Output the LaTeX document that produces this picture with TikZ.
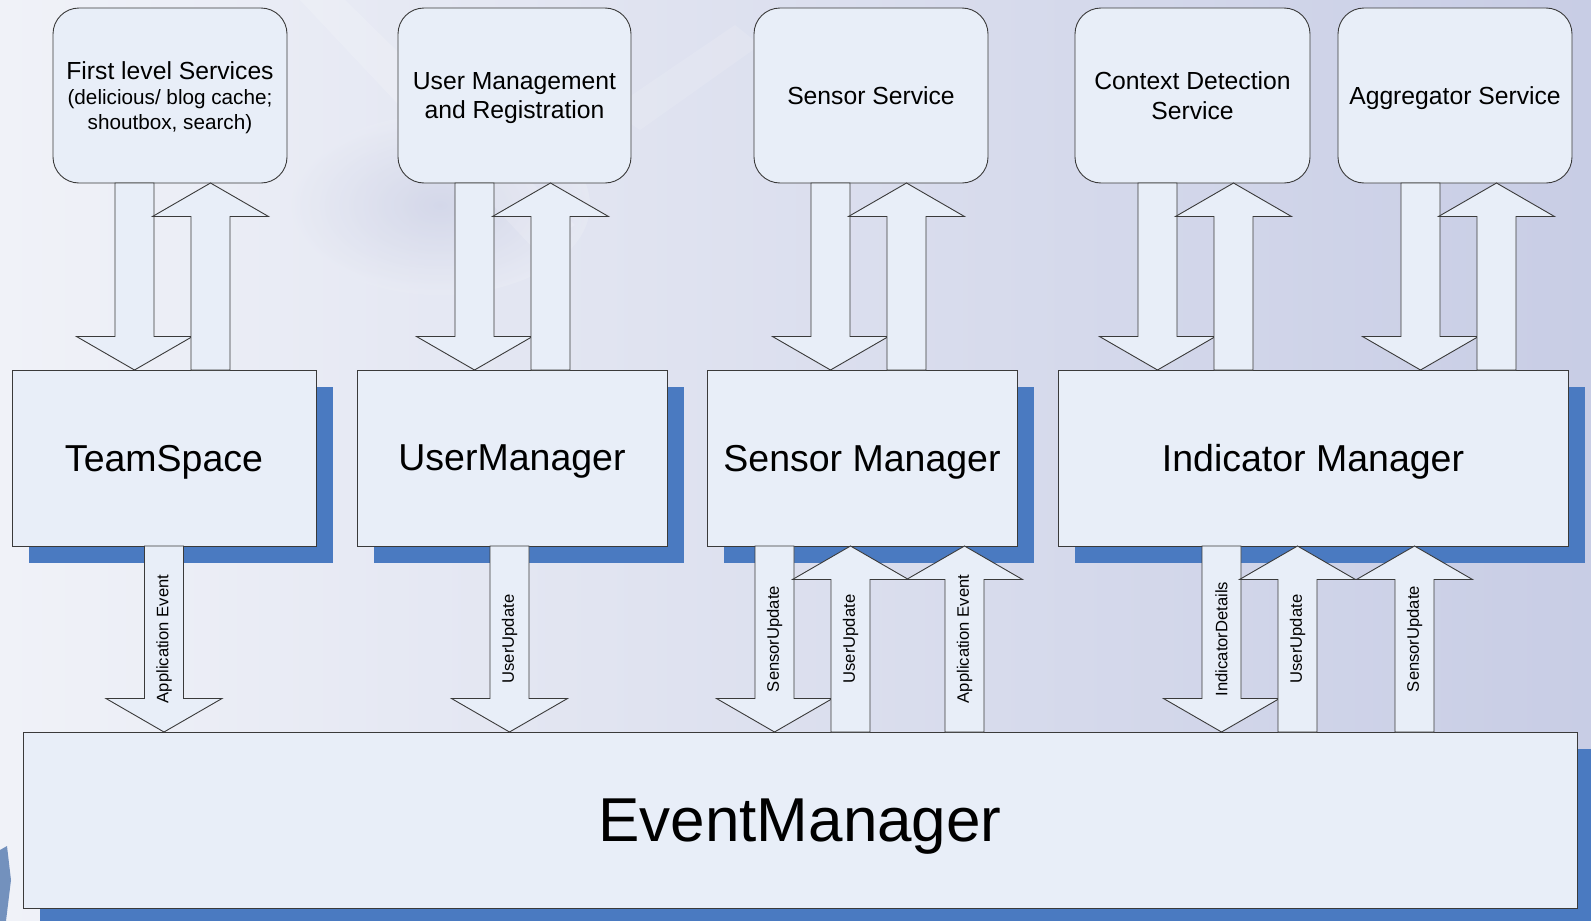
\documentclass[tikz,border=0pt]{standalone}
\usepackage{fontspec}
\setmainfont{Liberation Sans}
\usetikzlibrary{calc,shadows}

\definecolor{bgleft}{HTML}{F0F2F8}
\definecolor{bgright}{HTML}{C8CDE5}
\definecolor{boxfill}{HTML}{E8EEF8}
\definecolor{edge}{HTML}{3A3A3A}
\definecolor{shadowblue}{HTML}{4A7AC1}
\definecolor{ghost}{HTML}{C9CDE3}

\newcommand{\shaftw}{19.5pt}
\newcommand{\headw}{58pt}
\newcommand{\headl}{33.5pt}

% block arrow pointing down from the bottom of #3 to the top of #4, shaft centred at x=#2
\newcommand{\flowdown}[5]{%
  \draw[blockarrow] let \p1=(#3.south), \p2=(#4.north) in
    (#2pt-\shaftw,\y1) -- (#2pt+\shaftw,\y1) -- (#2pt+\shaftw,\y2+\headl)
    -- (#2pt+\headw,\y2+\headl) -- (#2pt,\y2) -- (#2pt-\headw,\y2+\headl)
    -- (#2pt-\shaftw,\y2+\headl) -- cycle
    node[flowlabel] (#1) at (#2pt,{0.5*\y1+0.5*\y2}) {#5};}
% block arrow pointing up from the top of #3 to the bottom of #4, shaft centred at x=#2
\newcommand{\flowup}[5]{%
  \draw[blockarrow] let \p1=(#3.north), \p2=(#4.south) in
    (#2pt-\shaftw,\y1) -- (#2pt+\shaftw,\y1) -- (#2pt+\shaftw,\y2-\headl)
    -- (#2pt+\headw,\y2-\headl) -- (#2pt,\y2) -- (#2pt-\headw,\y2-\headl)
    -- (#2pt-\shaftw,\y2-\headl) -- cycle
    node[flowlabel] (#1) at (#2pt,{0.5*\y1+0.5*\y2}) {#5};}

\tikzset{
  service/.style={draw=edge, line width=0.9pt, fill=boxfill, rounded corners=26pt,
    anchor=north west, inner sep=0pt, outer sep=0pt, minimum height=175pt,
    text depth=0pt, align=center, font=\fontsize{24.7}{29.6}\selectfont},
  manager/.style={draw=edge, line width=0.9pt, fill=boxfill, anchor=north west,
    inner sep=0pt, outer sep=0pt, minimum height=176pt, text depth=0pt,
    font=\fontsize{37.5}{45}\selectfont,
    drop shadow={shadow xshift=17pt, shadow yshift=-17pt, fill=shadowblue, opacity=1}},
  blockarrow/.style={draw=edge, line width=0.9pt, fill=boxfill, line join=miter},
  flowlabel/.style={rotate=90, inner sep=0pt, font=\fontsize{16.6}{20}\selectfont},
}

\begin{document}
\begin{tikzpicture}[x=1pt, y=-1pt]
\useasboundingbox (0,0) rectangle (1591,921);

% backdrop with a faded emblem
\fill[left color=bgleft, right color=bgright] (0,0) rectangle (1591,921);
\shade[inner color=ghost, outer color=bgleft!82!bgright, opacity=0.6]
  (440,205) ellipse [x radius=150pt, y radius=90pt];
\fill[white, opacity=0.16] (300,0) -- (345,0) -- (575,225) -- (535,250) -- cycle;
\fill[white, opacity=0.12] (610,110) -- (735,25) -- (760,45) -- (640,130) -- cycle;
\fill[shadowblue!85!black, opacity=0.7] (0,850) -- (7,846) -- (11,880) -- (6,921) -- (0,921) -- cycle;

% services
\node[service, minimum width=234pt] (fls) at (53,8)
  {First level Services\\[-4pt]
   {\fontsize{20.7}{24.5}\selectfont (delicious/ blog cache;}\\[-4.5pt]
   {\fontsize{20.7}{24.5}\selectfont shoutbox, search)}};
\node[service, minimum width=233pt] (umr) at (398,8) {User Management\\and Registration};
\node[service, minimum width=234pt] (ss)  at (754,8) {Sensor Service};
\node[service, minimum width=235pt] (cds) at (1075,8) {Context Detection\\Service};
\node[service, minimum width=234pt] (ags) at (1338,8) {Aggregator Service};

% managers
\node[manager, minimum width=304pt] (ts) at (12,370)   {TeamSpace};
\node[manager, minimum width=310pt] (um) at (357,370)  {UserManager};
\node[manager, minimum width=310pt] (sm) at (707,370)  {Sensor Manager};
\node[manager, minimum width=510pt] (im) at (1058,370) {Indicator Manager};

% event bus
\node[manager, minimum width=1554pt, font=\fontsize{62}{72}\selectfont,
  drop shadow={shadow xshift=18pt, shadow yshift=-18pt, fill=shadowblue, opacity=1}]
  (em) at (23,732) {EventManager};

% service <-> manager links
\flowdown{a1}{134.5}{fls}{ts}{}
\flowup{a2}{210.5}{ts}{fls}{}
\flowdown{a3}{474.5}{umr}{um}{}
\flowup{a4}{550.5}{um}{umr}{}
\flowdown{a5}{830.5}{ss}{sm}{}
\flowup{a6}{906.5}{sm}{ss}{}
\flowdown{a7}{1157.5}{cds}{im}{}
\flowup{a8}{1233.5}{im}{cds}{}
\flowdown{a9}{1420.5}{ags}{im}{}
\flowup{a10}{1496.5}{im}{ags}{}

% manager <-> event bus links
\flowdown{b1}{164}{ts}{em}{Application Event}
\flowdown{b2}{509.5}{um}{em}{UserUpdate}
\flowdown{b3}{774.5}{sm}{em}{SensorUpdate}
\flowup{b4}{850.5}{em}{sm}{UserUpdate}
\flowup{b5}{964.5}{em}{sm}{Application Event}
\flowdown{b6}{1221.5}{im}{em}{IndicatorDetails}
\flowup{b7}{1297.5}{em}{im}{UserUpdate}
\flowup{b8}{1414.5}{em}{im}{SensorUpdate}
\end{tikzpicture}
\end{document}
